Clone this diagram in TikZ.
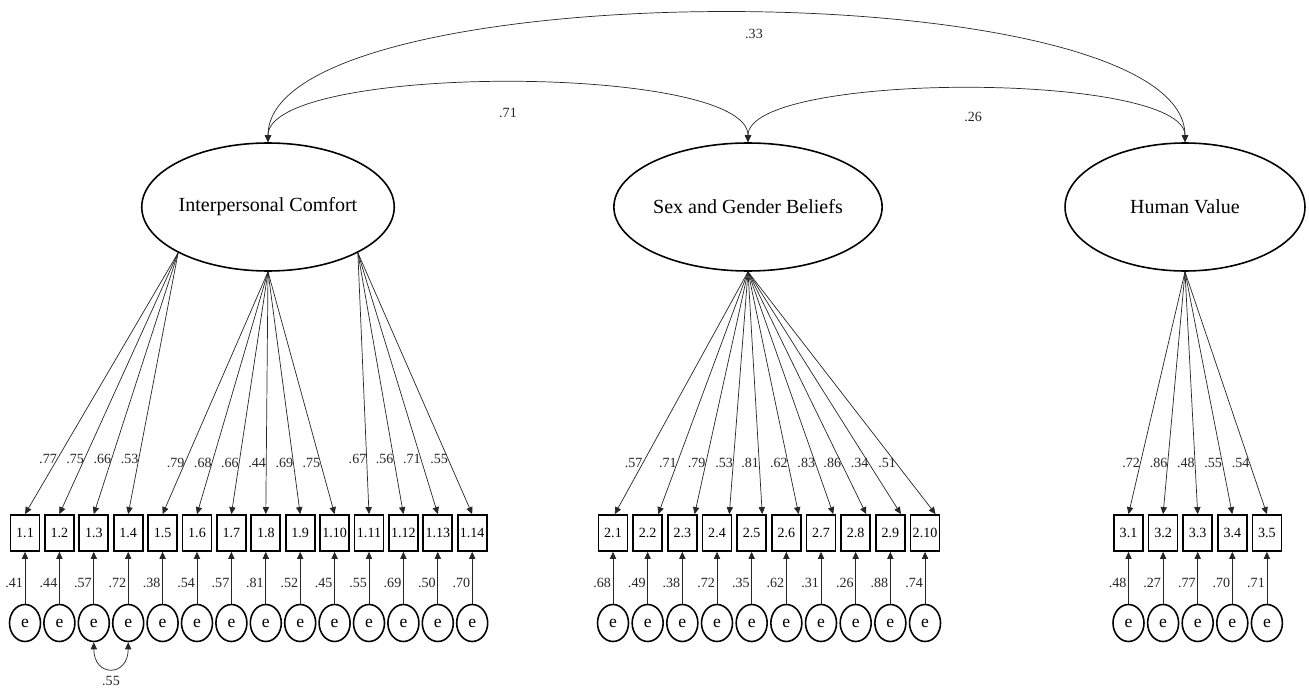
\documentclass[tikz,border=0pt]{standalone}
\usepackage{fontspec}
\setmainfont{Liberation Serif}
\usetikzlibrary{arrows.meta,shapes.geometric}

\begin{document}
\begin{tikzpicture}[x=0.02cm,y=-0.02cm,
      latent/.style={draw,ellipse,line width=0.9pt,
                     minimum width=4.8cm,minimum height=2.56cm,
                     inner sep=0pt,font=\fontsize{11.4}{13}\selectfont},
      item/.style={draw,line width=1pt,
                   minimum width=0.58cm,minimum height=0.72cm,
                   inner sep=0pt,font=\fontsize{8}{9}\selectfont},
      resid/.style={draw,ellipse,line width=0.9pt,
                    minimum width=0.62cm,minimum height=0.74cm,
                    inner sep=0pt,font=\fontsize{10}{11}\selectfont},
      coef/.style={font=\fontsize{8}{9}\selectfont,inner sep=1pt},
      arr/.style={-{Triangle[length=4pt,width=3.6pt]},
                  line width=0.4pt,black!85},
      cov/.style={{Triangle[length=4pt,width=3.6pt]}-{Triangle[length=4pt,width=3.6pt]},
                  line width=0.4pt,black!85}]
    \useasboundingbox (0,0) rectangle (1309,689);

    % latent factors
    \node[latent] (comfort) at (268,207) {Interpersonal Comfort};
    \node[latent] (beliefs) at (748,207) {Sex and Gender Beliefs};
    \node[latent] (value)   at (1185,207) {Human Value};

    % factor correlations
    \draw[cov] (comfort.north) .. controls +(0,-172) and +(0,-172) ..
      node[coef,pos=.52,below=8pt] {.33} (value.north);
    \draw[cov] (comfort.north) .. controls +(0,-79) and +(0,-79) ..
      node[coef,midway,below=13pt] {.71} (beliefs.north);
    \draw[cov] (beliefs.north) .. controls +(0,-71) and +(0,-71) ..
      node[coef,pos=.51,below=12pt] {.26} (value.north);

    % items 1.x (loading, error, source angle)
    \foreach \i/\ld/\er/\a in {1/.77/.41/207,2/.75/.44/207,3/.66/.57/207,
        4/.53/.72/207,5/.79/.38/270,6/.68/.54/270,7/.66/.57/270,
        8/.44/.81/270,9/.69/.52/270,10/.75/.45/270,11/.67/.55/333,
        12/.56/.69/333,13/.71/.50/333,14/.55/.70/333} {
      \node[item]  (c\i)  at ({25+34.4*(\i-1)},533) {1.\i};
      \node[resid] (ec\i) at ({25+34.4*(\i-1)},623) {e};
      \draw[arr] (comfort.\a) -- node[coef,pos=.79,left=-1pt] {\ld} (c\i.north);
      \draw[arr] (ec\i) -- node[coef,pos=.4,left] {\er} (c\i);
    }
    \draw[cov] (ec3.south) .. controls +(0,35) and +(0,35) ..
      node[coef,below=3pt] {.55} (ec4.south);

    % items 2.x
    \foreach \i/\ld/\er/\dx in {1/.57/.68/1,2/.71/.49/6,3/.79/.38/7,
        4/.53/.72/7,5/.81/.35/6,6/.62/.62/7,7/.83/.31/7,8/.86/.26/6,
        9/.34/.88/6,10/.51/.74/6} {
      \node[item]  (b\i)  at ({613+34.67*(\i-1)},533) {2.\i};
      \node[resid] (eb\i) at ({613+34.67*(\i-1)},623) {e};
      \draw[arr] (beliefs.south) -- node[coef,pos=.79,left=-1pt] {\ld}
        ([xshift=\dx pt]b\i.north);
      \draw[arr] (eb\i) -- node[coef,pos=.4,left] {\er} (b\i);
    }

    % items 3.x
    \foreach \i/\ld/\er in {1/.72/.48,2/.86/.27,3/.48/.77,4/.55/.70,5/.54/.71} {
      \node[item]  (v\i)  at ({1128.5+34.6*(\i-1)},533) {3.\i};
      \node[resid] (ev\i) at ({1128.5+34.6*(\i-1)},623) {e};
      \draw[arr] (value.south) -- node[coef,pos=.79,left=-1pt] {\ld} (v\i.north);
      \draw[arr] (ev\i) -- node[coef,pos=.4,left] {\er} (v\i);
    }
  \end{tikzpicture}
\end{document}
